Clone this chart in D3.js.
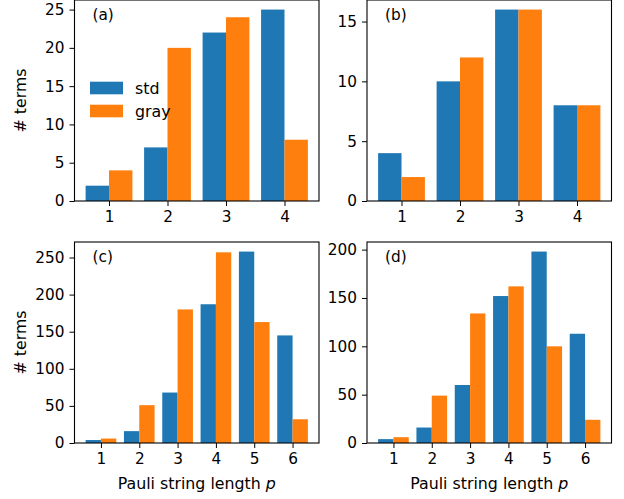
<!DOCTYPE html>
<html>
<head>
<meta charset="utf-8">
<script src="https://cdn.jsdelivr.net/npm/d3@7"></script>
<style>
  body { margin: 0; background: #fff; }
  text { font-family: "DejaVu Sans", sans-serif; fill: #000; }
</style>
</head>
<body>
<div id="chart"></div>
<script>
// values
const lengthsSmall = [1, 2, 3, 4];
const lengthsLarge = [1, 2, 3, 4, 5, 6];

const stdA = [2, 7, 22, 25];
const grayA = [4, 20, 24, 8];
const stdB = [4, 10, 16, 8];
const grayB = [2, 12, 16, 8];
const stdC = [4, 16, 68, 187, 258, 145];
const grayC = [6, 51, 180, 257, 163, 32];
const stdD = [4, 16, 60, 152, 198, 113];
const grayD = [6, 49, 134, 162, 100, 24];

const ticksA = [0, 5, 10, 15, 20, 25];
const ticksB = [0, 5, 10, 15];
const ticksC = [0, 50, 100, 150, 200, 250];
const ticksD = [0, 50, 100, 150, 200];

const seriesNames = ["std", "gray"];
const colours = ["#1f77b4", "#ff7f0e"];

const width = 624;
const height = 499;
const tickFont = 15.3;
const labelFont = 15.8;
const barWidth = 0.4;

const svg = d3.create("svg")
    .attr("width", width)
    .attr("height", height);

const panels = [
    { label: "(a)", p: lengthsSmall, std: stdA, gray: grayA, ticks: ticksA,
      box: { left: 74.5, right: 319, top: 0, bottom: 201 }, ylabel: true, xlabel: false, legend: true },
    { label: "(b)", p: lengthsSmall, std: stdB, gray: grayB, ticks: ticksB,
      box: { left: 367, right: 611.5, top: 0, bottom: 201 }, ylabel: false, xlabel: false, legend: false },
    { label: "(c)", p: lengthsLarge, std: stdC, gray: grayC, ticks: ticksC,
      box: { left: 74.5, right: 319, top: 242, bottom: 443 }, ylabel: true, xlabel: true, legend: false },
    { label: "(d)", p: lengthsLarge, std: stdD, gray: grayD, ticks: ticksD,
      box: { left: 367, right: 611.5, top: 242, bottom: 443 }, ylabel: false, xlabel: true, legend: false },
];

panels.forEach(drawPanel);

function drawPanel(panel) {
    const b = panel.box;
    const g = svg.append("g");

    // matplotlib-style 5% margins around the bar extent
    const lo = d3.min(panel.p) - barWidth;
    const hi = d3.max(panel.p) + barWidth;
    const pad = (hi - lo) * 0.05;
    const x = d3.scaleLinear().domain([lo - pad, hi + pad]).range([b.left, b.right]);

    const ymax = d3.max(panel.std.concat(panel.gray)) * 1.05;
    const y = d3.scaleLinear().domain([0, ymax]).range([b.bottom, b.top]);

    const bars = [];
    panel.p.forEach((p, i) => {
        bars.push({ x0: p - barWidth, x1: p, v: panel.std[i], s: 0 });
        bars.push({ x0: p, x1: p + barWidth, v: panel.gray[i], s: 1 });
    });

    g.append("g")
        .selectAll("rect")
        .data(bars)
        .join("rect")
        .attr("x", d => x(d.x0))
        .attr("width", d => x(d.x1) - x(d.x0))
        .attr("y", d => y(d.v))
        .attr("height", d => y(0) - y(d.v))
        .attr("fill", d => colours[d.s]);

    // x axis
    const xAxis = g.append("g")
        .attr("transform", `translate(0,${b.bottom})`)
        .call(d3.axisBottom(x).tickValues(panel.p).tickSize(5).tickPadding(5).tickFormat(d3.format("d")));
    xAxis.select(".domain").remove();
    xAxis.selectAll("text").attr("font-size", tickFont).attr("font-family", "DejaVu Sans");

    // y axis
    const yAxis = g.append("g")
        .attr("transform", `translate(${b.left},0)`)
        .call(d3.axisLeft(y).tickValues(panel.ticks).tickSize(5).tickPadding(5).tickFormat(d3.format("d")));
    yAxis.select(".domain").remove();
    yAxis.selectAll("text").attr("font-size", tickFont).attr("font-family", "DejaVu Sans");

    // spines
    g.append("rect")
        .attr("x", b.left)
        .attr("y", b.top)
        .attr("width", b.right - b.left)
        .attr("height", b.bottom - b.top)
        .attr("fill", "none")
        .attr("stroke", "#000")
        .attr("stroke-width", 1.1);

    g.append("text")
        .attr("x", b.left + 18)
        .attr("y", b.top + 20)
        .attr("font-size", tickFont)
        .text(panel.label);

    if (panel.ylabel) {
        g.append("text")
            .attr("transform", `translate(25.5,${(b.top + b.bottom) / 2}) rotate(-90)`)
            .attr("text-anchor", "middle")
            .attr("font-size", labelFont)
            .text("# terms");
    }

    if (panel.xlabel) {
        const t = g.append("text")
            .attr("x", (b.left + b.right) / 2)
            .attr("y", b.bottom + 46)
            .attr("text-anchor", "middle")
            .attr("font-size", labelFont);
        t.append("tspan").text("Pauli string length ");
        t.append("tspan").attr("font-style", "italic").text("p");
    }

    if (panel.legend) {
        const leg = g.append("g")
            .selectAll("g")
            .data(seriesNames)
            .join("g")
            .attr("transform", (d, i) => `translate(${b.left + 15.5},${b.top + 88 + i * 23})`);
        leg.append("rect")
            .attr("x", 0)
            .attr("y", -6.3)
            .attr("width", 33)
            .attr("height", 12.6)
            .attr("fill", (d, i) => colours[i]);
        leg.append("text")
            .attr("x", 45)
            .attr("y", 5.5)
            .attr("font-size", labelFont)
            .text(d => d);
    }
}

d3.select("#chart").node().append(svg.node());
</script>
</body>
</html>
